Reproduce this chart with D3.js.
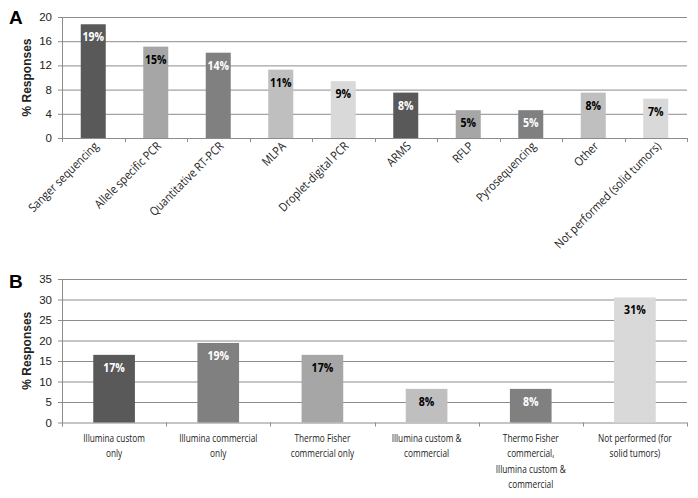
<!DOCTYPE html>
<html><head><meta charset="utf-8">
<script src="https://cdn.jsdelivr.net/npm/d3@7"></script>
<style>body{margin:0;background:#fff}</style>
</head><body>
<svg id="c" width="698" height="498"></svg>
<script>
const catsA = ["Sanger sequencing","Allele specific PCR","Quantitative RT-PCR","MLPA","Droplet-digital PCR","ARMS","RFLP","Pyrosequencing","Other","Not performed (solid tumors)"];
const valsA = [18.8,15.1,14.1,11.3,9.4,7.5,4.6,4.6,7.5,6.5];
const labelsA = ["19%","15%","14%","11%","9%","8%","5%","5%","8%","7%"];
const ticksA = [0,4,8,12,16,20];

const catsB = [["Illumina custom","only"],["Illumina commercial","only"],["Thermo Fisher","commercial only"],["Illumina custom &","commercial"],["Thermo Fisher","commercial,","Illumina custom &","commercial"],["Not performed (for","solid tumors)"]];
const valsB = [16.5,19.4,16.5,8.2,8.2,30.5];
const labelsB = ["17%","19%","17%","8%","8%","31%"];
const ticksB = [0,5,10,15,20,25,30,35];

const fillA = ["#595959","#a6a6a6","#808080","#bfbfbf","#d9d9d9","#595959","#a6a6a6","#808080","#bfbfbf","#d9d9d9"];
const textA = ["#fff","#000","#fff","#000","#000","#fff","#000","#fff","#000","#000"];
const fillB = ["#595959","#808080","#a6a6a6","#bfbfbf","#808080","#d9d9d9"];
const textB = ["#fff","#fff","#000","#000","#fff","#000"];

const svg = d3.select("#c");
const catFont = "'Open Sans', sans-serif";
const numFont = "'Liberation Sans', Arial, sans-serif";
const grid = "#8c8c8c";

function panel(o){
  const g = svg.append("g");
  const x = d3.scaleBand().domain(d3.range(o.vals.length)).range([62,687]).paddingInner(0.6).paddingOuter(0.3);
  const xb = d3.scaleBand().domain(d3.range(o.vals.length)).range([62,687]);
  const y = d3.scaleLinear().domain([0,o.max]).range([o.y0,o.y1]);
  g.selectAll("line.grid").data(o.ticks).join("line")
    .attr("x1",58).attr("x2",687).attr("y1",d=>y(d)+0.5).attr("y2",d=>y(d)+0.5)
    .attr("stroke",grid).attr("stroke-width",1);
  g.append("line").attr("x1",62.5).attr("x2",62.5).attr("y1",y(o.max)).attr("y2",y(0)+4).attr("stroke",grid);
  g.selectAll("text.yt").data(o.ticks).join("text")
    .attr("x",52).attr("y",d=>y(d)+4).attr("text-anchor","end")
    .attr("font-family",numFont).attr("font-size",11.5).attr("fill","#222").text(d=>d);
  const bounds = d3.range(o.vals.length+1).map(i=> i<o.vals.length ? xb(i) : 687);
  g.selectAll("line.xt").data(bounds).join("line")
    .attr("x1",d=>Math.round(d)+0.5).attr("x2",d=>Math.round(d)+0.5).attr("y1",y(0)).attr("y2",y(0)+4).attr("stroke",grid);
  g.selectAll("rect").data(o.vals).join("rect")
    .attr("x",(d,i)=>x(i)).attr("width",x.bandwidth())
    .attr("y",d=>y(d)).attr("height",d=>y(0)-y(d)).attr("fill",(d,i)=>o.fill[i]);
  g.selectAll("text.lab").data(o.vals).join("text")
    .attr("transform",(d,i)=>`translate(${x(i)+x.bandwidth()/2},${y(d)+17}) scale(0.92,1)`)
    .attr("text-anchor","middle").attr("font-family",catFont).attr("font-weight","bold")
    .attr("font-size",11.5).attr("fill",(d,i)=>o.tcol[i]).text((d,i)=>o.labels[i]);
  g.append("text").attr("transform",`translate(31,${(y(0)+y(o.max))/2}) rotate(-90)`)
    .attr("text-anchor","middle").attr("font-family",numFont).attr("font-weight","bold")
    .attr("font-size",12).attr("fill","#222").text("% Responses");
  g.append("text").attr("x",9).attr("y",o.letterY).attr("font-family",numFont).attr("font-weight","bold")
    .attr("font-size",19).attr("fill","#000").text(o.letter);
  return {g,x,xb,y};
}

const A = panel({vals:valsA,labels:labelsA,ticks:ticksA,max:20,y0:138,y1:17,fill:fillA,tcol:textA,letter:"A",letterY:24});
A.g.selectAll("text.cat").data(catsA).join("text")
  .attr("transform",(d,i)=>`translate(${A.xb(i)+A.xb.bandwidth()/2+6},${147}) rotate(-45) scale(0.88,1)`)
  .attr("text-anchor","end").attr("font-family",catFont).attr("font-size",12).attr("fill","#222").text(d=>d);

const B = panel({vals:valsB,labels:labelsB,ticks:ticksB,max:35,y0:422.5,y1:279,fill:fillB,tcol:textB,letter:"B",letterY:288});
catsB.forEach((lines,i)=>{
  const t = B.g.append("text").attr("text-anchor","middle").attr("font-family",catFont)
    .attr("font-size",11.5).attr("fill","#222")
    .attr("transform",`translate(${B.xb(i)+B.xb.bandwidth()/2},0) scale(0.72,1)`);
  lines.forEach((l,j)=>t.append("tspan").attr("x",0).attr("y",442+j*15.5).text(l));
});
</script>
</body></html>
